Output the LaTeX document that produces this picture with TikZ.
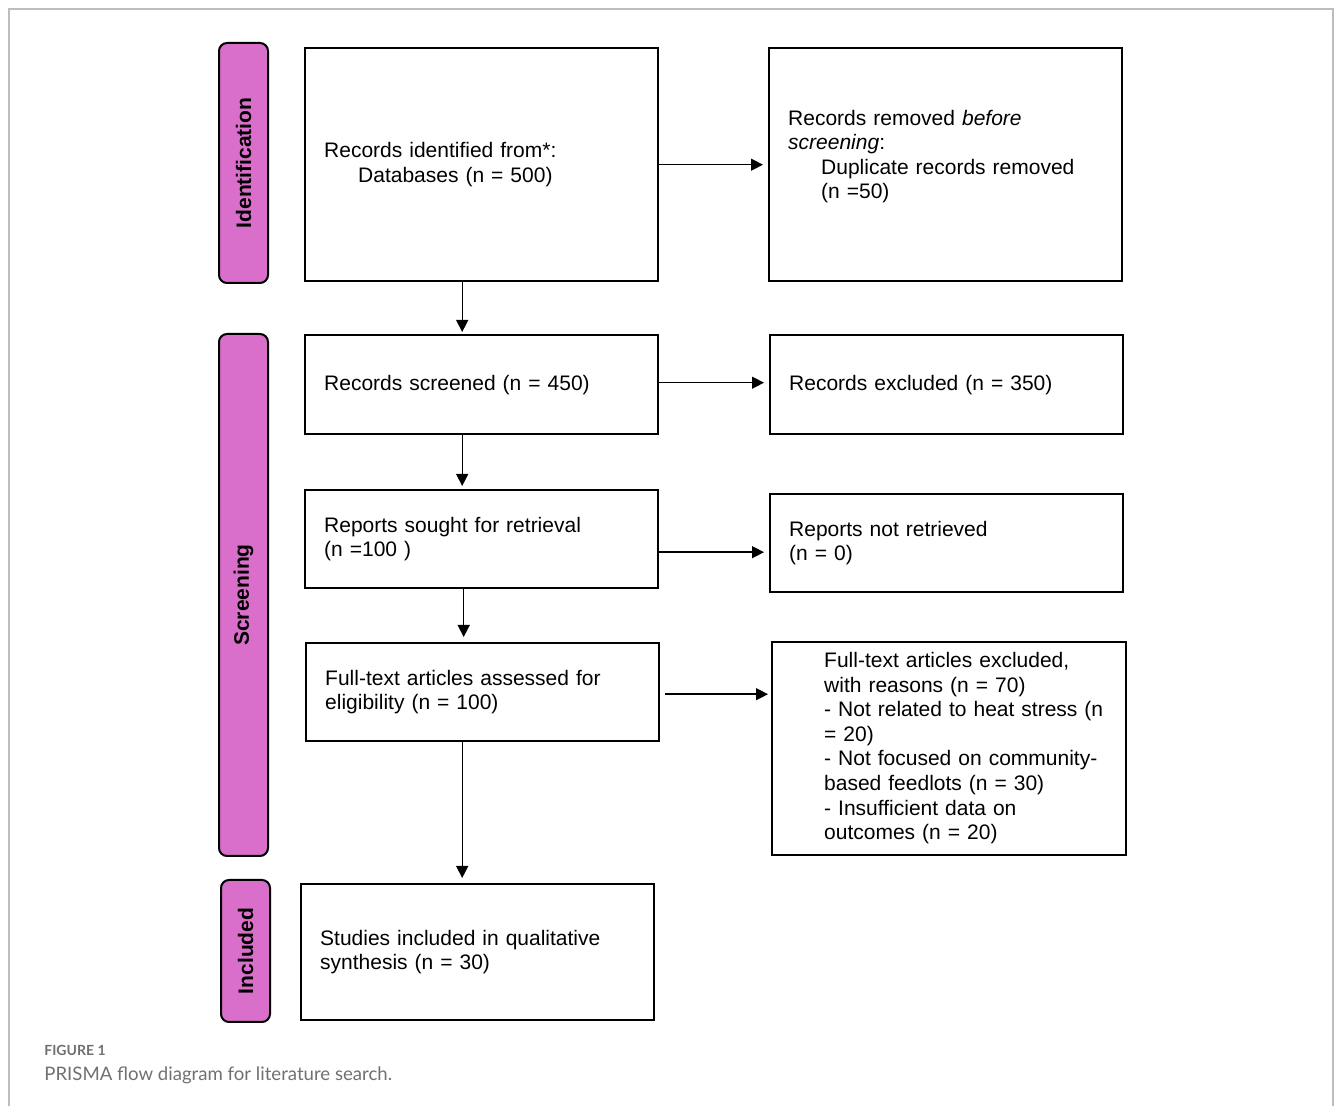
\documentclass[tikz,border=0pt]{standalone}
\usepackage{fontspec}
\setmainfont{Liberation Sans}
\newfontfamily\capfont{Lato}
\usepackage{xcolor}
\definecolor{prismapink}{HTML}{D96FCA}
\definecolor{prismagray}{HTML}{707070}
\definecolor{prismaframe}{HTML}{BDBDBD}
\usetikzlibrary{arrows.meta,calc}

\begin{document}
\begin{tikzpicture}[x=0.5pt,y=-0.5pt,
  box/.style={draw,line width=1.2pt,anchor=north west,minimum width=176.5pt,
    text width=157.5pt,inner xsep=9.5pt,align=left,
    font=\fontsize{10.5pt}{12.3pt}\selectfont},
  phase/.style={draw,line width=1pt,fill=prismapink,rounded corners=4pt,rotate=90,
    minimum height=24.5pt,inner sep=0pt,font=\bfseries\fontsize{10.5pt}{12pt}\selectfont},
  arr/.style={-{Triangle[length=6pt,width=6pt]},line width=0.7pt}]
\useasboundingbox (0,0) rectangle (1335,1106);
\draw[prismaframe,line width=1pt] (9,1106) -- (9,9) -- (1333,9) -- (1333,1106);

% phases
\node[phase,minimum width=120pt] (idlab) at (243.5,163) {Identification};
\node[phase,minimum width=261pt] (scrlab) at (243.5,595) {Screening};
\node[phase,minimum width=71pt] (inclab) at (245.5,951) {Included};

% identification
\node[box,minimum height=116.5pt] (ident) at (304,47)
  {Records identified from*:\\\hspace*{17pt}Databases (n = 500)};
\node[box,minimum height=116.5pt] (removed) at (768,47)
  {Records removed \emph{before}\\\emph{screening}:\\\hspace*{16.5pt}Duplicate records removed\\\hspace*{16.5pt}(n =50)\\[-2pt]\mbox{}};

% screening
\node[box,minimum height=49.5pt] (screened) at (304,334) {Records screened (n = 450)};
\node[box,minimum height=49.5pt] (excluded) at (769,334) {Records excluded (n = 350)};
\node[box,minimum height=49pt] (sought) at (304,489)
  {Reports sought for retrieval\\(n =100 )};
\node[box,minimum height=49pt] (notret) at (769,493)
  {Reports not retrieved\\(n = 0)};
\node[box,minimum height=49pt] (fulltext) at (305,642)
  {Full-text articles assessed for\\eligibility (n = 100)};
\node[box,minimum height=106.5pt,inner xsep=0pt,text width=177pt] (reasons) at (771,641)
  {\hspace*{26pt}\begin{tabular}{@{}l@{}}Full-text articles excluded,\\with reasons (n = 70)\\- Not related to heat stress (n\\= 20)\\- Not focused on community-\\based feedlots (n = 30)\\- Insufficient data on\\outcomes (n = 20)\end{tabular}};

% included
\node[box,minimum height=68pt] (studies) at (300,883)
  {Studies included in qualitative\\synthesis (n = 30)};

% arrows
\draw[arr,shorten >=2.5pt] (ident) -- (removed);
\draw[arr,shorten >=1pt] ([xshift=-9.75pt]ident.south) -- ([xshift=-9.75pt]ident.south |- screened.north);
\draw[arr,shorten >=2.5pt] ([yshift=1pt]screened.east) -- ([yshift=1pt]screened.east -| excluded.west);
\draw[arr,shorten >=1.5pt] ([xshift=-9.75pt]screened.south) -- ([xshift=-9.75pt]screened.south |- sought.north);
\draw[arr,shorten >=2.5pt] ([yshift=-6.5pt]sought.east) -- ([yshift=-6.5pt]sought.east -| notret.west);
\draw[arr,shorten >=2.5pt] ([xshift=-9pt]sought.south) -- ([xshift=-9pt]sought.south |- fulltext.north);
\draw[arr,shorten <=2.5pt,shorten >=1.5pt] ([yshift=-1pt]fulltext.east) -- ([yshift=-1pt]fulltext.east -| reasons.west);
\draw[arr,shorten >=2.5pt] ([xshift=-10.25pt]fulltext.south) -- ([xshift=-10.25pt]fulltext.south |- studies.north);

% caption
\node[anchor=base west,inner sep=0pt,text=prismagray,font=\capfont\bfseries\fontsize{7pt}{9pt}\selectfont] (figlab) at (44,1056) {FIGURE 1};
\node[anchor=base west,inner sep=0pt,text=prismagray,font=\capfont\fontsize{9.3pt}{11pt}\selectfont] (figcap) at (44,1080) {PRISMA flow diagram for literature search.};
\end{tikzpicture}
\end{document}
